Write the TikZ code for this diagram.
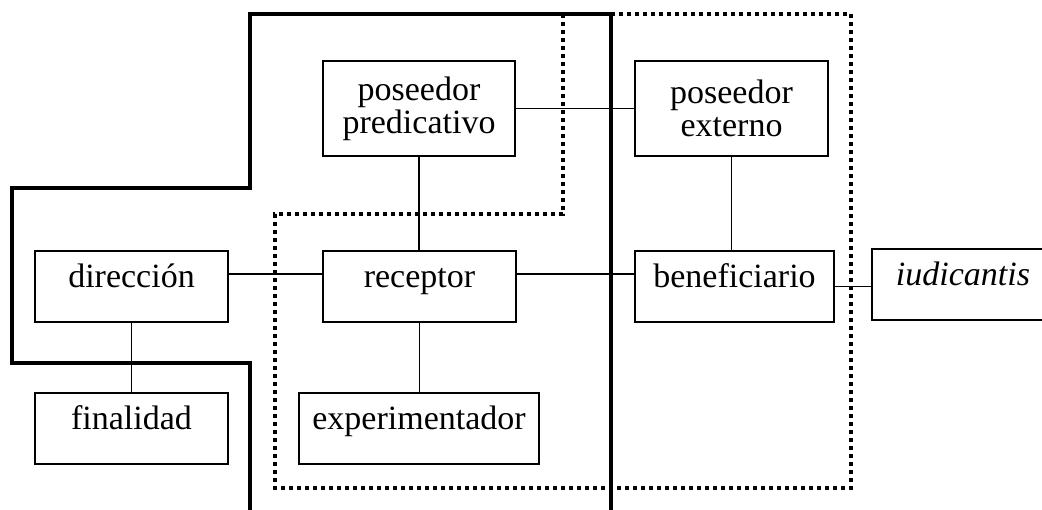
\documentclass[tikz,border=0pt]{standalone}
\usepackage{fontspec}
\setmainfont{Liberation Serif}
\begin{document}
\begin{tikzpicture}[x=0.5pt,y=-0.5pt,
  box/.style={draw, line width=1pt, inner sep=0pt, font=\fontsize{17}{16.5}\selectfont},
  onebox/.style={box, text height=18pt, text depth=17.5pt},
  twobox/.style={box, align=center, minimum height=47.5pt},
  link/.style={line width=0.9pt},
  zone/.style={line width=2.25pt, line join=miter},
  field/.style={line width=1.6pt, dash pattern=on 2pt off 2pt, line join=miter}]
\useasboundingbox (0,0) rectangle (1042,509);

% solid region boundary
\draw[zone] (250,515) -- (250,363) -- (12,363) -- (12,188) -- (250,188)
  -- (250,14) -- (611,14) -- (611,515);
% dotted region boundary
\draw[field] (563,14) -- (563,214) -- (275,214) -- (275,488) -- (851,488)
  -- (851,14) -- cycle;

% roles
\node[twobox, minimum width=96pt]   (pp)  at (419,108.5)   {poseedor\\predicativo};
\node[twobox, minimum width=96.5pt] (pe)  at (731.5,108.5) {poseedor\\externo};
\node[onebox, minimum width=96.5pt] (dir) at (131.5,286.5) {dirección};
\node[onebox, minimum width=96.5pt] (rec) at (419.5,286.5) {receptor};
\node[onebox, minimum width=99.5pt] (ben) at (734.5,286.5) {beneficiario};
\node[onebox, minimum width=96.5pt] (fin) at (131.5,428.5) {finalidad};
\node[onebox, minimum width=120pt]  (exp) at (419,428.5)   {experimentador};
\node[onebox, minimum width=91pt]   (iud) at (963,284.5)   {\itshape iudicantis};

% links
\draw[link] (pp.east) -- (pe.west);
\draw[link] (pp.south) -- (pp.south |- rec.north);
\draw[link] (pe.south) -- (pe.south |- ben.north);
\draw[link] ([yshift=6.25pt]dir.east) -- ([yshift=6.25pt]rec.west);
\draw[link] ([yshift=6.25pt]rec.east) -- ([yshift=6.25pt]ben.west);
\draw[link] (ben.east) -- (ben.east -| iud.west);
\draw[link] (dir.south) -- (fin.north);
\draw[link] (rec.south) -- (rec.south |- exp.north);
\end{tikzpicture}
\end{document}
